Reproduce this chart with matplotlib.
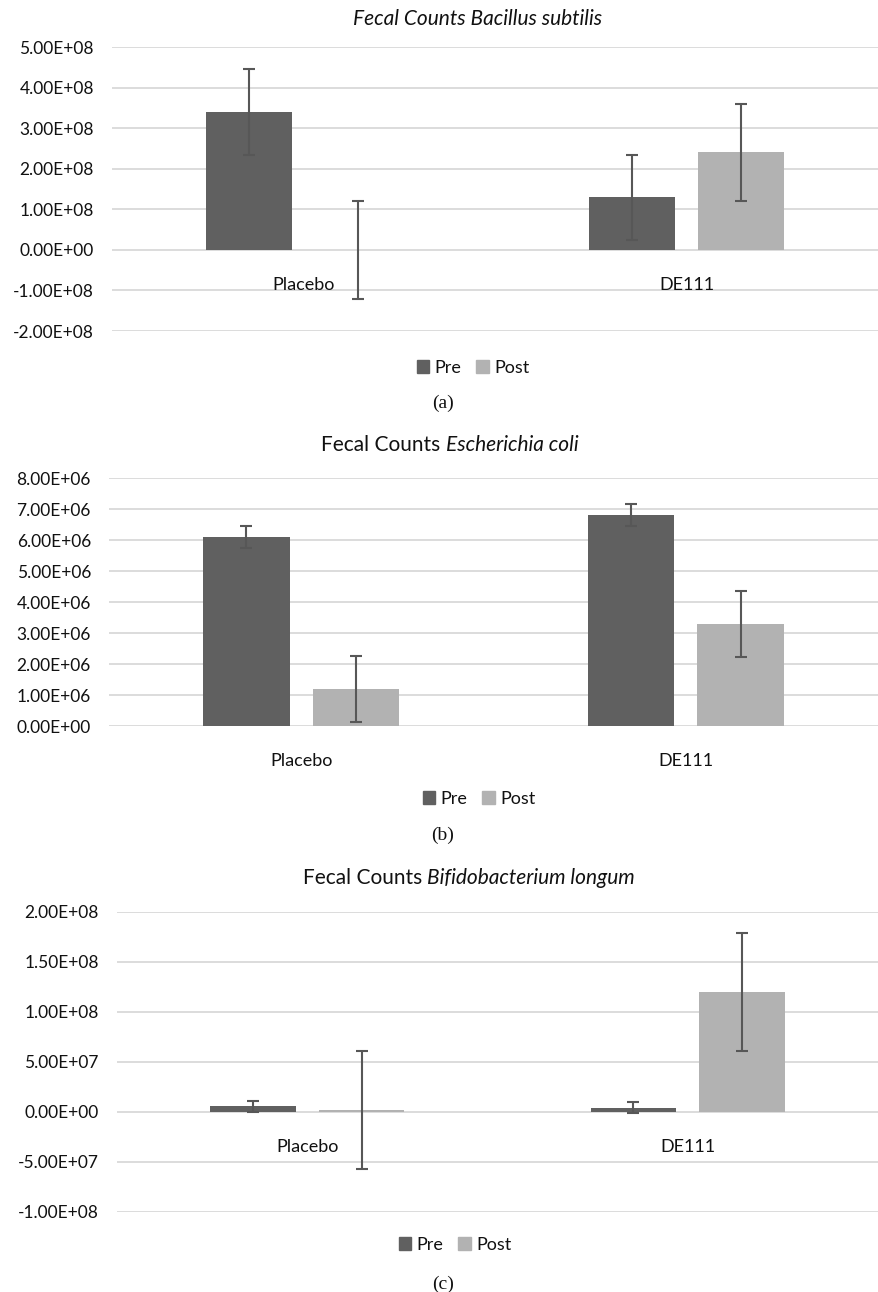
import numpy as np
import matplotlib
matplotlib.use('Agg')
import matplotlib.pyplot as plt
from matplotlib.patches import Patch
from matplotlib.ticker import FuncFormatter, MultipleLocator

plt.rcParams['font.family'] = ['Lato', 'DejaVu Sans']

groups = ['Placebo', 'DE111']
series = ['Pre', 'Post']

# Bacillus subtilis
bs_pre = [3.4e8, 1.3e8]
bs_pre_err = [1.05e8, 1.05e8]
bs_post = [0.0, 2.4e8]
bs_post_err = [1.2e8, 1.2e8]

# Escherichia coli
ec_pre = [6.1e6, 6.8e6]
ec_pre_err = [0.36e6, 0.36e6]
ec_post = [1.2e6, 3.3e6]
ec_post_err = [1.06e6, 1.06e6]

# Bifidobacterium longum
bl_pre = [6.0e6, 4.5e6]
bl_pre_err = [5.5e6, 5.2e6]
bl_post = [2.0e6, 1.2e8]
bl_post_err = [5.9e7, 5.9e7]

PRE_C = '#606060'
POST_C = '#b2b2b2'
ERR_C = '#575757'
GRID_C = '#d9d9d9'
TXT_C = '#111111'

W, H = 879, 1292
fig = plt.figure(figsize=(W / 100, H / 100), dpi=100)


def px_axes(left, top, bottom, right=878):
    return fig.add_axes([left / W, 1 - bottom / H, (right - left) / W, (bottom - top) / H])


def draw_panel(ax, pre, pre_err, post, post_err, ylim, step):
    x = np.arange(len(groups))
    off = 0.143
    bw = 0.225
    ax.bar(x - off, pre, bw, color=PRE_C, zorder=2)
    ax.bar(x + off, post, bw, color=POST_C, zorder=2)
    ekw = dict(fmt='none', ecolor=ERR_C, elinewidth=1.5, capsize=4, capthick=1.5, zorder=3)
    ax.errorbar(x - off, pre, yerr=pre_err, **ekw)
    ax.errorbar(x + off, post, yerr=post_err, **ekw)
    ax.set_xlim(-0.5, len(groups) - 0.5)
    ax.set_ylim(*ylim)
    ax.yaxis.set_major_locator(MultipleLocator(step))
    ax.yaxis.set_major_formatter(FuncFormatter(lambda v, p: f'{v:.2E}'))
    ax.grid(axis='y', color=GRID_C, linewidth=1.3, zorder=0)
    ax.set_axisbelow(True)
    for s in ax.spines.values():
        s.set_visible(False)
    ax.set_xticks([])
    ax.tick_params(axis='y', length=0, pad=13, labelsize=12.5, labelcolor=TXT_C)
    for i, g in enumerate(groups):
        ax.annotate(g, (i, 0), xytext=(0, -25), textcoords='offset points',
                    ha='center', va='center', fontsize=13, color=TXT_C)


def mixed_title(xpx, ypx, parts, size=15):
    r = fig.canvas.get_renderer()
    texts = [fig.text(0, 1 - ypx / H, s, fontstyle=st, fontsize=size,
                      ha='left', va='center', color=TXT_C) for s, st in parts]
    widths = [t.get_window_extent(r).width for t in texts]
    x0 = xpx - sum(widths) / 2
    for t, w in zip(texts, widths):
        t.set_x(x0 / W)
        x0 += w


def legend_at(xpx, ypx):
    handles = [Patch(color=PRE_C), Patch(color=POST_C)]
    fig.legend(handles, series, loc='center', bbox_to_anchor=(xpx / W, 1 - ypx / H),
               ncol=2, frameon=False, fontsize=13, handlelength=0.7, handleheight=0.7,
               handletextpad=0.3, columnspacing=0.8, labelcolor=TXT_C)


def caption(xpx, ypx, s):
    fig.text(xpx / W, 1 - ypx / H, s, ha='center', va='center', fontsize=14,
             family=['Liberation Serif', 'DejaVu Serif'], color=TXT_C)


ax_a = px_axes(112, 47, 331)
draw_panel(ax_a, bs_pre, bs_pre_err, bs_post, bs_post_err, (-2e8, 5e8), 1e8)
ax_b = px_axes(109, 478, 726)
draw_panel(ax_b, ec_pre, ec_pre_err, ec_post, ec_post_err, (0, 8e6), 1e6)
ax_c = px_axes(117, 912, 1212)
draw_panel(ax_c, bl_pre, bl_pre_err, bl_post, bl_post_err, (-1e8, 2e8), 5e7)

mixed_title(478, 19, [('Fecal Counts Bacillus subtilis', 'italic')])
mixed_title(450, 445, [('Fecal Counts ', 'normal'), ('Escherichia coli', 'italic')])
mixed_title(469, 878, [('Fecal Counts ', 'normal'), ('Bifidobacterium longum', 'italic')])

legend_at(473, 368)
legend_at(479, 799)
legend_at(455, 1245)

caption(443, 403, '(a)')
caption(443, 835, '(b)')
caption(443, 1284, '(c)')

fig.savefig('out.png', dpi=100)
